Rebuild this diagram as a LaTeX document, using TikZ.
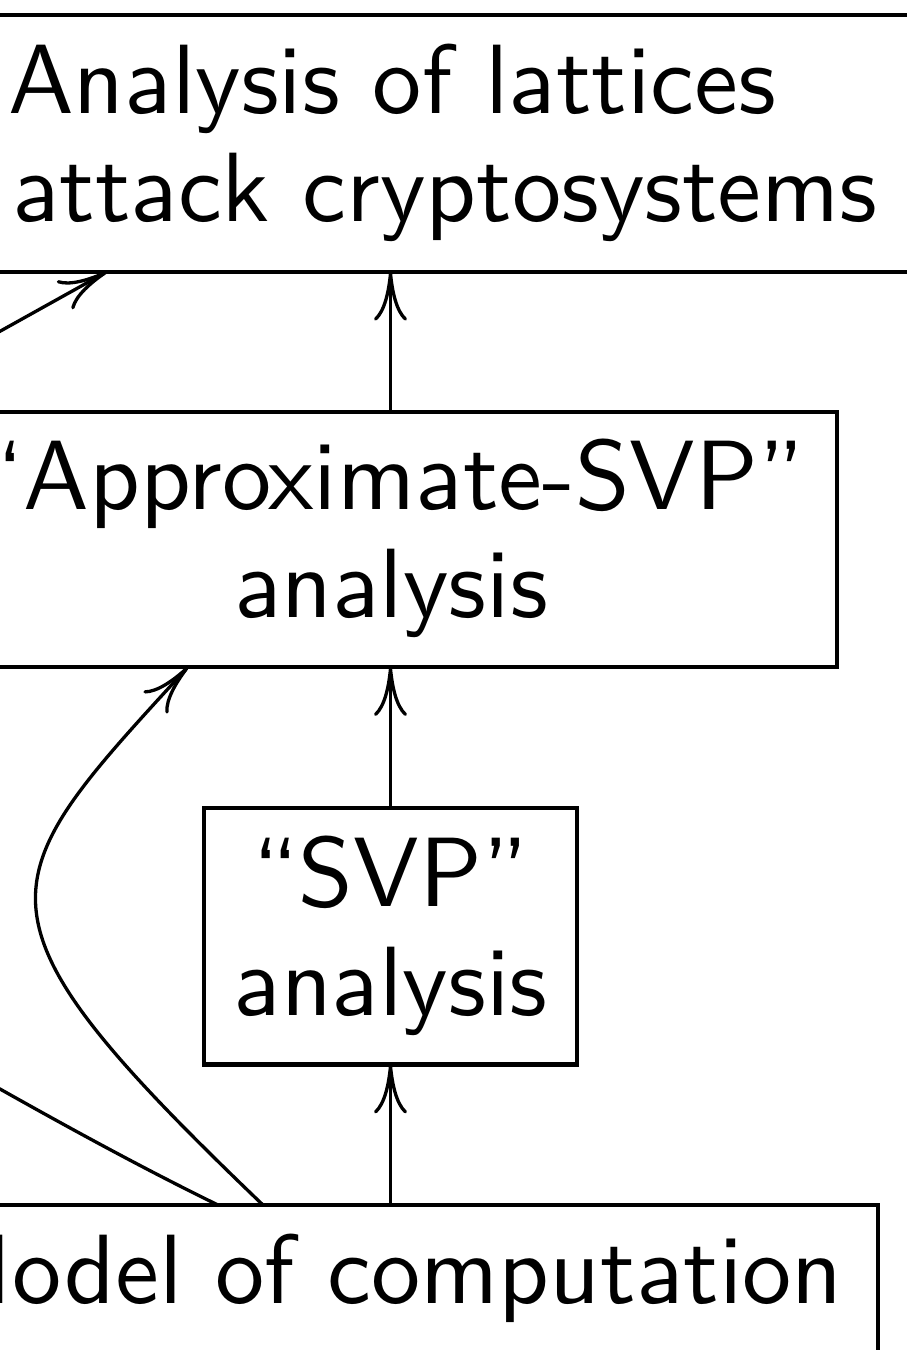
\documentclass[tikz,border=0pt]{standalone}
\usepackage{fontspec}
\usetikzlibrary{arrows.meta,calc}
% Latin Modern Sans at its 10pt design size, scaled up
\newfontfamily\boxfont{lmsans10-regular.otf}
\begin{document}
\begin{tikzpicture}[x=1pt,y=-1pt,
  box/.style={draw, line width=4.3pt, inner sep=0pt, outer sep=0pt},
  txt/.style={font=\fontsize{98.5}{108}\selectfont\boxfont, inner sep=0pt},
  link/.style={line width=3.3pt},
  arr/.style={link, -{Computer Modern Rightarrow[length=49pt,width=33pt]}}]
\useasboundingbox (0,0) rectangle (907,1350);
\clip (0,0) rectangle (907,1350);

% boxes
\node[box, minimum width=1020pt, minimum height=256.7pt] (atk) at (450,143.35) {};
\node[box, minimum width=893pt, minimum height=255.3pt] (appr) at (390.5,539.35) {};
\node[box, minimum width=373pt, minimum height=256.5pt] (svp) at (390.5,936.25) {};
\node[box, minimum width=978pt, minimum height=295pt] (model) at (389,1352.5) {};

% box texts
\node[txt, anchor=base west] (atkA) at (8,113) {Analysis of lattices};
\node[txt, anchor=base west] (atkB) at (12,221) {attack cryptosystems};
\node[txt, anchor=base] (apprA) at (391,509) {“Approximate-SVP”};
\node[txt, anchor=base] (apprB) at (391,617) {analysis};
\node[txt, anchor=base] (svpA) at (390.5,906.5) {“SVP”};
\node[txt, anchor=base] (svpB) at (390.5,1015) {analysis};
\node[txt, anchor=base east] (modelA) at (843,1303) {Model of computation};

% vertical arrows
\draw[arr] (appr.north) -- (appr.north |- atk.south);
\draw[arr] (svp.north) -- (svp.north |- appr.south);
\draw[arr] (svp.south |- model.north) -- (svp.south);

% connectors leaving the visible area
\coordinate (farTop) at (-100,387);
\coordinate (farLow) at (-60,1055);
\coordinate (atkIn) at ($(atk.south)+(-343,0)$);
\coordinate (apprIn) at ($(appr.south)+(-202.5,0)$);
\coordinate (modelOutA) at ($(model.north)+(-126,0)$);
\coordinate (modelOutB) at ($(model.north)+(-171,0)$);

\draw[arr] (farTop) -- (atkIn);
\draw[arr] (modelOutA) .. controls (-43,912) and (-11,884) .. (apprIn);
\draw[link] (modelOutB) .. controls (130,1162) and (40,1112) .. (farLow);
\end{tikzpicture}
\end{document}
